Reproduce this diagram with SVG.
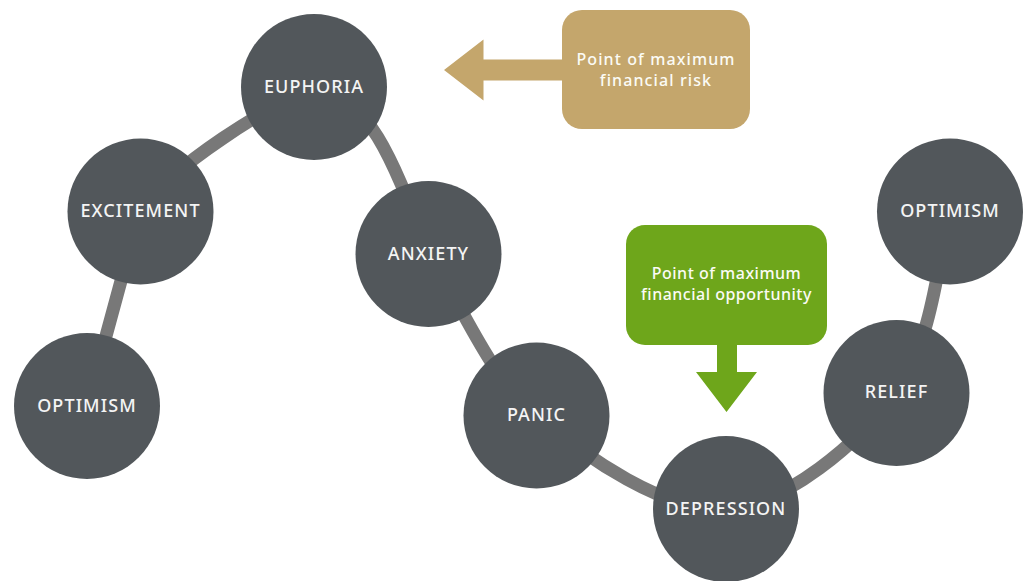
<svg xmlns="http://www.w3.org/2000/svg" width="1031" height="581" viewBox="0 0 1031 581">
<style>
.node{fill:#52575b}
.lbl{font-family:"Noto Sans","Liberation Sans",sans-serif;font-size:18px;font-weight:500;fill:#f4f4f4;text-anchor:middle;letter-spacing:1.1px}
.box{font-family:"Noto Sans","Liberation Sans",sans-serif;font-weight:500;fill:#fbfbf5;text-anchor:middle}
.conn{fill:none;stroke:#787878;stroke-width:13}
</style>
<rect width="1031" height="581" fill="#ffffff"/>
<g id="connectors">
<path class="conn" d="M87,406 L140,211 C172,165 270,105 314,87 C365,92 395,160 428,254 C465,308.7 486.3,372.5 536,415 C585.7,457.5 666,512.7 726,509 C786,505.3 858.7,442.7 896,393 C933.3,343.3 941,241.3 950,211"/>
</g>
<g id="risk">
<polygon points="444,70 483.5,39.5 483.5,59.5 570,59.5 570,80.5 483.5,80.5 483.5,100.5" fill="#c4a66c"/>
<rect x="562" y="10" width="188" height="119" rx="20" fill="#c4a66c"/>
<text class="box" font-size="16" letter-spacing="1.1" x="656" y="64.5">Point of maximum</text>
<text class="box" font-size="16" letter-spacing="1.1" x="656" y="85.5">financial risk</text>
</g>
<g id="opportunity">
<rect x="626" y="225" width="201" height="120" rx="19" fill="#6ea61b"/>
<polygon points="717,340 737,340 737,372 757,372 726.5,412 696,372 717,372" fill="#6ea61b"/>
<text class="box" font-size="16" letter-spacing="0.5" x="726.5" y="279">Point of maximum</text>
<text class="box" font-size="16" letter-spacing="0.5" x="726.5" y="300">financial opportunity</text>
</g>
<g id="optimism1"><circle class="node" cx="87" cy="406" r="73"/><text class="lbl" x="87" y="412">OPTIMISM</text></g>
<g id="excitement"><circle class="node" cx="140.5" cy="211.5" r="73"/><text class="lbl" x="140.5" y="217">EXCITEMENT</text></g>
<g id="euphoria"><circle class="node" cx="314" cy="87" r="73"/><text class="lbl" x="314" y="93">EUPHORIA</text></g>
<g id="anxiety"><circle class="node" cx="428.5" cy="254" r="73"/><text class="lbl" x="428.5" y="260">ANXIETY</text></g>
<g id="panic"><circle class="node" cx="536.5" cy="415.5" r="73"/><text class="lbl" x="536.5" y="421">PANIC</text></g>
<g id="depression"><circle class="node" cx="726" cy="509" r="73"/><text class="lbl" x="726" y="515">DEPRESSION</text></g>
<g id="relief"><circle class="node" cx="896.5" cy="393" r="73"/><text class="lbl" x="896.5" y="398">RELIEF</text></g>
<g id="optimism2"><circle class="node" cx="950" cy="211.5" r="73"/><text class="lbl" x="950" y="217">OPTIMISM</text></g>
</svg>
